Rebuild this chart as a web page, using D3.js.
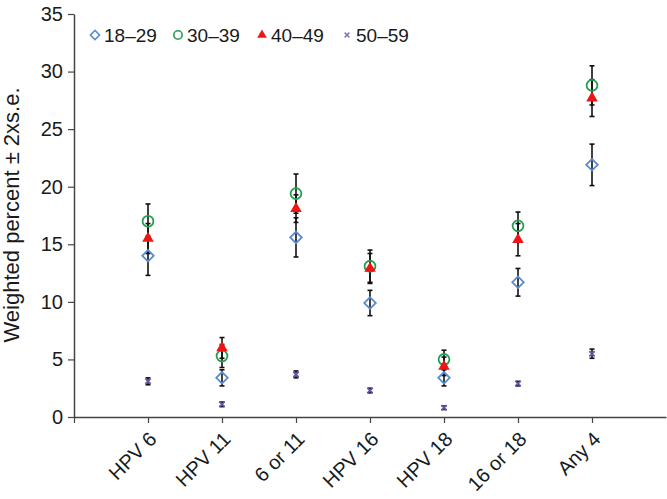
<!DOCTYPE html>
<html>
<head>
<meta charset="utf-8">
<script src="https://cdn.jsdelivr.net/npm/d3@7"></script>
<style>
  body { margin: 0; background: #fff; }
  text { font-family: "Liberation Sans", Arial, sans-serif; fill: #1a1a1a; }
</style>
</head>
<body>
<div id="chart"></div>
<script>
// categories on the x axis
var categories = ["HPV 6", "HPV 11", "6 or 11", "HPV 16", "HPV 18", "16 or 18", "Any 4"];
var ageGroups = ["18\u201329", "30\u201339", "40\u201349", "50\u201359"];
var yTicks = [0, 5, 10, 15, 20, 25, 30, 35];

// weighted percent and 2 x s.e. per age group
var pct1829 = [14.0, 3.4, 15.6, 9.9, 3.4, 11.7, 21.9];
var err1829 = [1.7, 0.7, 1.7, 1.1, 0.7, 1.2, 1.8];
var pct3039 = [17.0, 5.3, 19.4, 13.1, 5.0, 16.6, 28.8];
var err3039 = [1.5, 1.0, 1.7, 1.4, 0.8, 1.2, 1.7];
var pct4049 = [15.5, 6.0, 18.1, 12.9, 4.4, 15.4, 27.7];
var err4049 = [1.3, 0.9, 1.2, 1.3, 0.8, 1.4, 1.6];
var pct5059 = [3.1, 1.1, 3.7, 2.3, 0.8, 2.9, 5.5];
var err5059 = [0.3, 0.2, 0.3, 0.2, 0.15, 0.2, 0.4];

var svgWidth = 667;
var svgHeight = 499;
var margin = { top: 14, right: 1, bottom: 82, left: 74 };
var width = svgWidth - margin.left - margin.right;
var height = svgHeight - margin.top - margin.bottom;

// marker styles per series
var styles = [
  { symbol: d3.symbolSquare, size: 66, rotate: 45, fill: "none", stroke: "#5b8bd0" },
  { symbol: d3.symbolCircle, size: 92, rotate: 0, fill: "none", stroke: "#20a050" },
  { symbol: d3.symbolTriangle, size: 58, rotate: 0, fill: "#ee1515", stroke: "none" },
  { symbol: d3.symbolX, size: 20, rotate: 0, fill: "none", stroke: "#6a55a8" }
];
var legendStyles = [
  { symbol: d3.symbolSquare, size: 42, rotate: 45, fill: "none", stroke: "#5b8bd0" },
  { symbol: d3.symbolCircle, size: 55, rotate: 0, fill: "none", stroke: "#20a050" },
  { symbol: d3.symbolTriangle, size: 40, rotate: 0, fill: "#ee1515", stroke: "none" },
  { symbol: d3.symbolX, size: 16, rotate: 0, fill: "none", stroke: "#8a78c0" }
];

var series = [
  { name: ageGroups[0], values: pct1829, errors: err1829 },
  { name: ageGroups[1], values: pct3039, errors: err3039 },
  { name: ageGroups[2], values: pct4049, errors: err4049 },
  { name: ageGroups[3], values: pct5059, errors: err5059 }
];

var svg = d3.select("#chart")
  .append("svg")
  .attr("width", svgWidth)
  .attr("height", svgHeight);

var chartGroup = svg.append("g")
  .attr("transform", `translate(${margin.left}, ${margin.top})`);

// x positions: category i sits at i + 1 on a 0..8 scale
var xScale = d3.scaleLinear()
  .domain([0, 8])
  .range([0, width]);

var yScale = d3.scaleLinear()
  .domain([0, 35])
  .range([height, 0]);

// y axis
var leftAxis = d3.axisLeft(yScale)
  .tickValues(yTicks)
  .tickSizeInner(6)
  .tickSizeOuter(0)
  .tickPadding(5);

var yAxis = chartGroup.append("g").call(leftAxis);
yAxis.select(".domain").attr("stroke", "#444").attr("stroke-width", 1.5);
yAxis.selectAll(".tick line").attr("stroke", "#444").attr("stroke-width", 1.2);
yAxis.selectAll(".tick text")
  .attr("font-size", 20)
  .attr("font-family", "Liberation Sans, Arial, sans-serif")
  .attr("fill", "#1a1a1a");

// x axis
var bottomAxis = d3.axisBottom(xScale)
  .tickValues(d3.range(0, 8))
  .tickSizeInner(6)
  .tickSizeOuter(0)
  .tickFormat(function (d) { return d >= 1 ? categories[d - 1] : ""; });

var xAxis = chartGroup.append("g")
  .attr("transform", `translate(0, ${height})`)
  .call(bottomAxis);
xAxis.select(".domain").attr("stroke", "#444").attr("stroke-width", 1.5);
xAxis.selectAll(".tick line").attr("stroke", "#444").attr("stroke-width", 1.2);
xAxis.selectAll(".tick text")
  .attr("font-size", 20)
  .attr("font-family", "Liberation Sans, Arial, sans-serif")
  .attr("fill", "#1a1a1a")
  .attr("text-anchor", "end")
  .attr("dy", "0.35em")
  .attr("transform", "translate(-2, 12) rotate(-45)");

// error bars first, markers on top
var capHalf = 2.5;
series.forEach(function (s) {
  var g = chartGroup.append("g").attr("class", "errors");
  s.values.forEach(function (v, i) {
    var x = xScale(i + 1);
    var lo = yScale(v - s.errors[i]);
    var hi = yScale(v + s.errors[i]);
    g.append("line")
      .attr("x1", x).attr("x2", x)
      .attr("y1", lo).attr("y2", hi)
      .attr("stroke", "#111").attr("stroke-width", 1.6);
    [lo, hi].forEach(function (yy) {
      g.append("line")
        .attr("x1", x - capHalf).attr("x2", x + capHalf)
        .attr("y1", yy).attr("y2", yy)
        .attr("stroke", "#111").attr("stroke-width", 1.6);
    });
  });
});

series.forEach(function (s, k) {
  var st = styles[k];
  chartGroup.append("g")
    .selectAll("path")
    .data(s.values)
    .enter()
    .append("path")
    .attr("d", d3.symbol().type(st.symbol).size(st.size))
    .attr("transform", function (d, i) {
      return `translate(${xScale(i + 1)}, ${yScale(d)}) rotate(${st.rotate})`;
    })
    .attr("fill", st.fill)
    .attr("stroke", st.stroke)
    .attr("stroke-width", 1.8);
});

// legend
var legendX = [95, 178, 262, 347];
var legend = svg.append("g").attr("transform", "translate(0, 35)");
ageGroups.forEach(function (name, k) {
  var st = legendStyles[k];
  legend.append("path")
    .attr("d", d3.symbol().type(st.symbol).size(st.size))
    .attr("transform", `translate(${legendX[k]}, 0) rotate(${st.rotate})`)
    .attr("fill", st.fill)
    .attr("stroke", st.stroke)
    .attr("stroke-width", 1.6);
  legend.append("text")
    .attr("x", legendX[k] + 9)
    .attr("y", 0)
    .attr("dy", "0.35em")
    .attr("font-size", 19)
    .text(name);
});

// y axis label
svg.append("text")
  .attr("transform", "translate(19, 215) rotate(-90)")
  .attr("text-anchor", "middle")
  .attr("font-size", 22)
  .text("Weighted percent \u00b1 2xs.e.");
</script>
</body>
</html>
